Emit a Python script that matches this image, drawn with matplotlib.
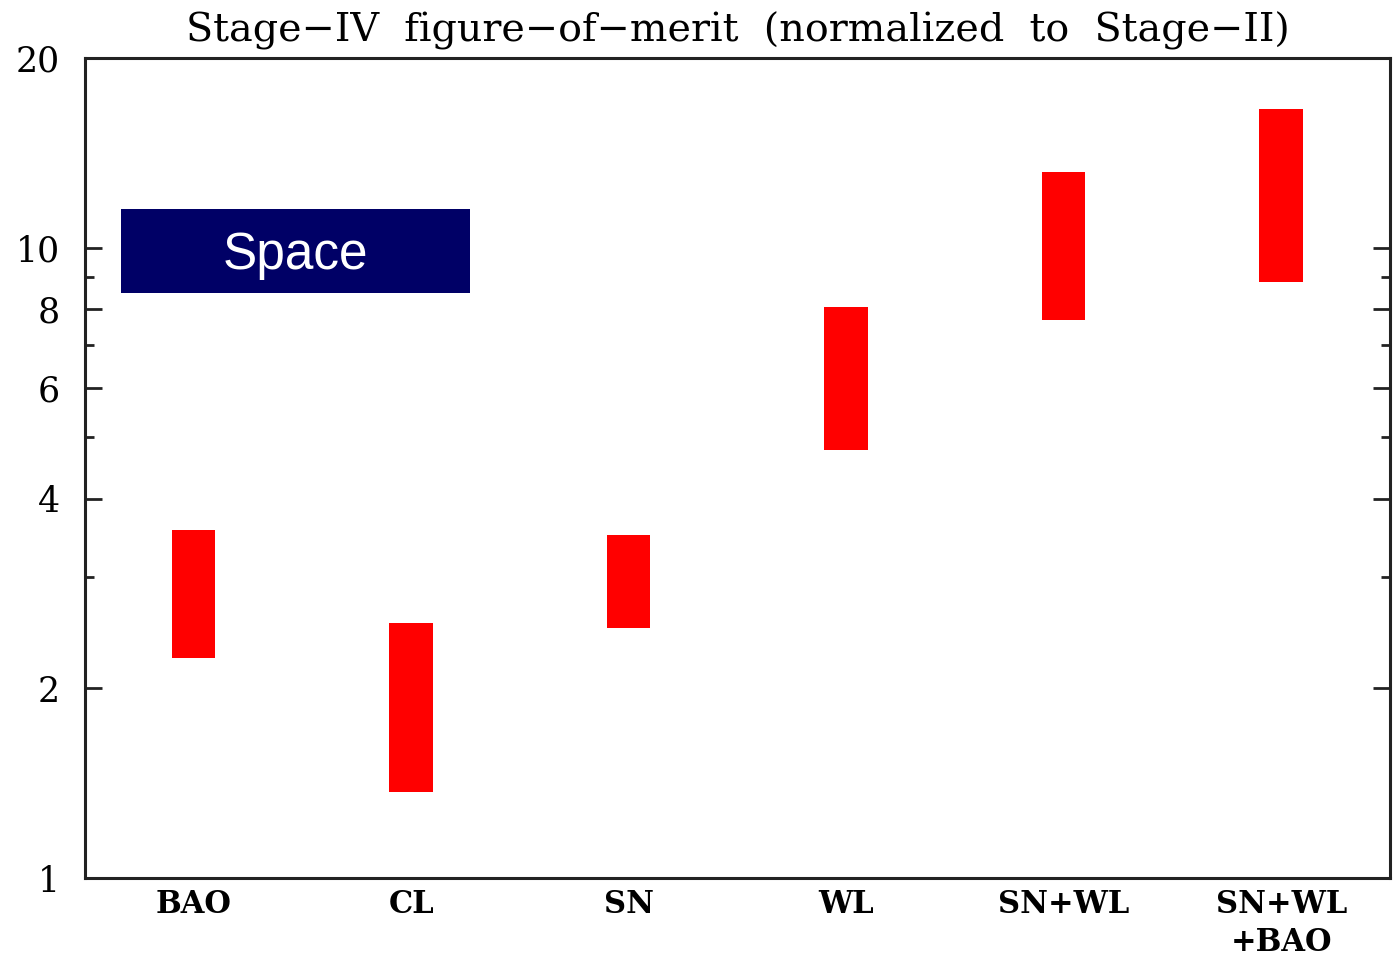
import matplotlib
matplotlib.use('Agg')
import matplotlib.pyplot as plt
from matplotlib.patches import Rectangle
from matplotlib.ticker import FixedLocator, FixedFormatter, NullFormatter

# data
probes = ['BAO', 'CL', 'SN', 'WL', 'SN+WL', 'SN+WL\n+BAO']
fom_low = [2.23, 1.37, 2.49, 4.78, 7.68, 8.82]
fom_high = [3.57, 2.54, 3.50, 8.05, 13.2, 16.6]
major_ticks = [1, 2, 4, 6, 8, 10, 20]
minor_ticks = [3, 5, 7, 9]

serif = 'DejaVu Serif'

fig = plt.figure(figsize=(13.95, 9.6), dpi=100)
ax = fig.add_axes([0.0609, 0.0854, 0.9355, 0.8542])

x = list(range(1, len(probes) + 1))
heights = [h - l for l, h in zip(fom_low, fom_high)]
ax.bar(x, heights, bottom=fom_low, width=0.2, color='#ff0000', linewidth=0)

ax.set_yscale('log')
ax.set_ylim(1, 20)
ax.set_xlim(0.5, len(probes) + 0.5)

ax.yaxis.set_major_locator(FixedLocator(major_ticks))
ax.yaxis.set_major_formatter(FixedFormatter([str(t) for t in major_ticks]))
ax.yaxis.set_minor_locator(FixedLocator(minor_ticks))
ax.yaxis.set_minor_formatter(NullFormatter())
ax.tick_params(axis='y', which='both', direction='in', left=True, right=True,
               width=2, color='#222222')
ax.tick_params(axis='y', which='major', length=12, pad=18, labelsize=25)
ax.tick_params(axis='y', which='minor', length=6.5)
for lab in ax.get_yticklabels():
    lab.set_family(serif)

ax.set_xticks(x)
ax.set_xticklabels(probes, family=serif, fontweight='bold', fontsize=22,
                   linespacing=1.3)
ax.tick_params(axis='x', length=0, pad=8)

for sp in ax.spines.values():
    sp.set_linewidth(2.2)
    sp.set_color('#222222')

ax.set_title('Stage\u2212IV  figure\u2212of\u2212merit  (normalized  to  Stage\u2212II)',
             family=serif, fontsize=28.5, pad=12)

# "Space" label box
ax.add_patch(Rectangle((0.0276, 0.7134), 0.2674, 0.1024, transform=ax.transAxes,
                       facecolor='#000066', edgecolor='none', zorder=3))
ax.text(0.1613, 0.7427, 'Space', transform=ax.transAxes, color='white',
        family='Liberation Sans', fontsize=37, ha='center', va='baseline', zorder=4)

fig.savefig('out.png', dpi=100)
